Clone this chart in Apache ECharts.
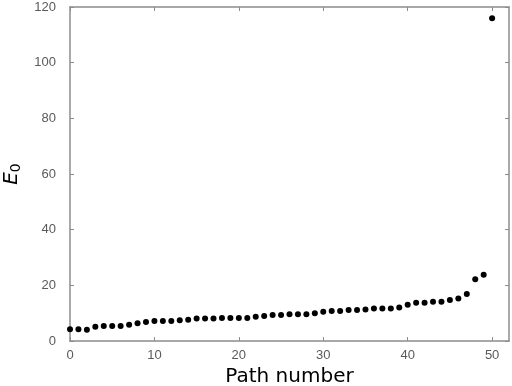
<!DOCTYPE html>
<html>
<head>
<meta charset="utf-8">
<script src="https://cdn.jsdelivr.net/npm/echarts@6/dist/echarts.min.js"></script>
<style>
  html, body { margin: 0; padding: 0; background: #fff; }
  #chart { width: 512px; height: 386px; }
</style>
</head>
<body>
<div id="chart"></div>
<script>
// path index 0..50 and the E0 value read for each one
const pathNumbers = [
  0, 1, 2, 3, 4, 5, 6, 7, 8, 9,
  10, 11, 12, 13, 14, 15, 16, 17, 18, 19,
  20, 21, 22, 23, 24, 25, 26, 27, 28, 29,
  30, 31, 32, 33, 34, 35, 36, 37, 38, 39,
  40, 41, 42, 43, 44, 45, 46, 47, 48, 49, 50
];
const e0Values = [
  4.2, 4.2, 4.0, 5.1, 5.4, 5.4, 5.4, 5.8, 6.4, 6.8,
  7.2, 7.2, 7.2, 7.5, 7.6, 8.1, 8.1, 8.1, 8.3, 8.3,
  8.3, 8.3, 8.7, 9.0, 9.3, 9.3, 9.6, 9.6, 9.6, 10.0,
  10.5, 10.8, 10.8, 11.1, 11.1, 11.3, 11.7, 11.7, 11.7, 12.0,
  13.0, 13.7, 13.7, 14.1, 14.1, 14.7, 15.3, 16.9, 22.2, 23.8, 116
];
const xTicks = [0, 10, 20, 30, 40, 50];

const chart = echarts.init(document.getElementById("chart"));

const axisGray = "#8c8c8c";
const labelGray = "#5a5a5a";

// main axes + mirrored ones for the closed box
const xBase = {
  type: "value",
  min: 0,
  max: 52,
  interval: 10,
  axisLine: { show: true, onZero: false, lineStyle: { color: axisGray, width: 1.5 } },
  axisTick: { show: true, inside: true, length: 4, customValues: xTicks, lineStyle: { color: axisGray } },
  splitLine: { show: false },
};
const yBase = {
  type: "value",
  min: 0,
  max: 120,
  interval: 20,
  axisLine: { show: true, onZero: false, lineStyle: { color: axisGray, width: 1.5 } },
  axisTick: { show: true, inside: true, length: 4, lineStyle: { color: axisGray } },
  splitLine: { show: false },
};

chart.setOption({
  animation: false,
  backgroundColor: "#fff",
  grid: { left: 70, right: 3, top: 7, bottom: 45, outerBoundsMode: "none" },
  xAxis: [
    {
      ...xBase,
      position: "bottom",
      name: "Path number",
      nameLocation: "middle",
      nameGap: 25,
      nameTextStyle: { fontFamily: "DejaVu Sans", fontSize: 20, color: "#000" },
      axisLabel: {
        margin: 8,
        fontFamily: "Liberation Sans",
        fontSize: 13,
        color: labelGray,
        customValues: xTicks,
      },
    },
    { ...xBase, position: "top", axisLabel: { show: false } },
  ],
  yAxis: [
    {
      ...yBase,
      position: "left",
      name: "{e|E}{s|0}",
      nameLocation: "middle",
      nameGap: 40,
      nameTextStyle: {
        rich: {
          e: { fontFamily: "DejaVu Sans", fontStyle: "italic", fontSize: 20, color: "#000" },
          s: { fontFamily: "DejaVu Sans", fontSize: 14, color: "#000", padding: [10, 0, 0, 0] },
        },
      },
      axisLabel: { margin: 14, fontFamily: "Liberation Sans", fontSize: 13, color: labelGray },
    },
    { ...yBase, position: "right", axisLabel: { show: false } },
  ],
  series: [
    {
      type: "scatter",
      symbol: "circle",
      symbolSize: 6,
      itemStyle: { color: "#000", opacity: 1 },
      data: pathNumbers.map((x, i) => [x, e0Values[i]]),
    },
  ],
});
</script>
</body>
</html>
